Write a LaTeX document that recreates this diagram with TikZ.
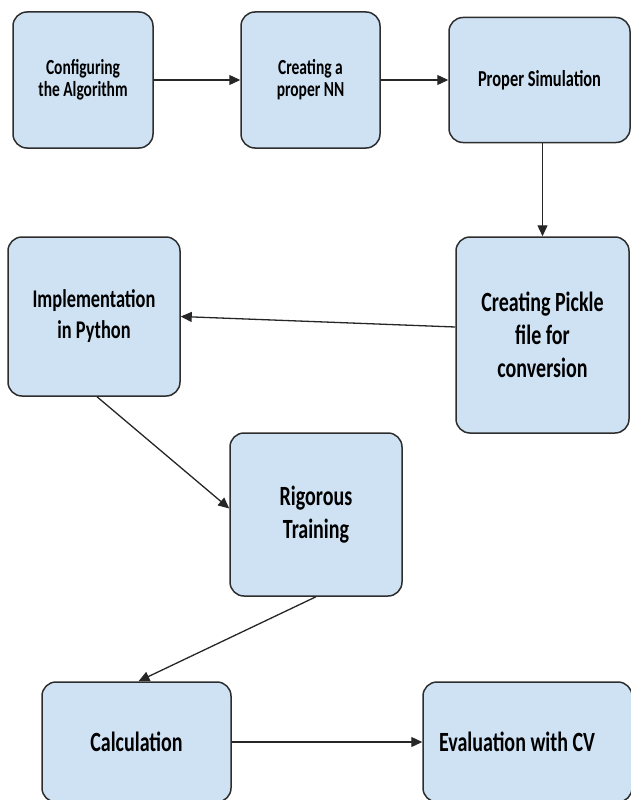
\documentclass[tikz,border=0pt]{standalone}
\usepackage{fontspec}
\setmainfont{Carlito}[FakeStretch=0.72]
\usetikzlibrary{arrows.meta}
\definecolor{boxfill}{RGB}{207,226,243}
\definecolor{boxline}{RGB}{45,45,45}
\tikzset{
  stepbox/.style={draw=boxline, line width=1.5pt, fill=boxfill, rounded corners=14pt, inner sep=0pt, align=center, text=black},
  smallfont/.style={font=\fontsize{21.5}{22}\selectfont\bfseries},
  midfont/.style={font=\fontsize{25.5}{31}\selectfont\bfseries},
  bigfont/.style={font=\fontsize{27.8}{33}\selectfont\bfseries},
  conn/.style={draw=black!85, line width=1.3pt, -{Triangle[length=11pt,width=10pt]}},
}
\begin{document}
\begin{tikzpicture}[x=1pt,y=-1pt]
\useasboundingbox (0,0) rectangle (631,800);
\clip (0,0) rectangle (631,800);
\node[stepbox, smallfont, minimum width=140pt, minimum height=136pt] (cfg) at (83,80) {Configuring\\the Algorithm};
\node[stepbox, smallfont, minimum width=139pt, minimum height=136pt] (nn) at (310.5,80) {Creating a\\proper NN};
\node[stepbox, smallfont, font=\fontsize{22.8}{22}\selectfont\bfseries, minimum width=181pt, minimum height=125pt] (sim) at (539.5,80) {Proper Simulation};
\node[stepbox, bigfont, minimum width=173pt, minimum height=196pt] (pk) at (542.5,335) {Creating Pickle\\file for\\conversion};
\node[stepbox, midfont, minimum width=172pt, minimum height=159pt] (imp) at (94,316.5) {Implementation\\in Python};
\node[stepbox, bigfont, minimum width=172pt, minimum height=163pt] (rig) at (316,514.5) {Rigorous\\Training};
\node[stepbox, bigfont, minimum width=189pt, minimum height=120pt] (calc) at (136.5,742) {Calculation};
\node[stepbox, minimum width=209pt, minimum height=120pt] (eval) at (527.5,742) {};
\node[bigfont, inner sep=0pt] (evaltxt) at (517,742) {Evaluation with CV};
\draw[conn] (cfg.east) -- (nn.west);
\draw[conn] (nn.east) -- (nn.east -| sim.west);
\draw[conn] (pk.north |- sim.south) -- (pk.north);
\draw[conn] ([yshift=8pt]pk.west) -- (imp.east);
\draw[conn] ([xshift=3pt]imp.south) -- ([yshift=6pt]rig.west);
\draw[conn] (rig.south) -- ([xshift=2pt]calc.north);
\draw[conn] (calc.east) -- (eval.west);
\end{tikzpicture}
\end{document}
